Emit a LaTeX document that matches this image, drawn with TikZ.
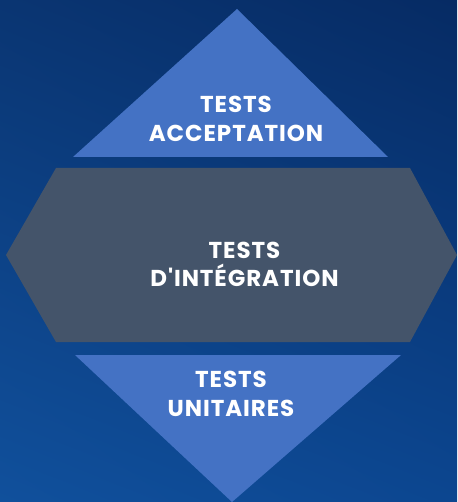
\documentclass[tikz,border=0pt]{standalone}
\usepackage{fontspec}
\newfontfamily\lblfont{Poppins}[LetterSpace=4]
\usetikzlibrary{positioning,shadings}
\definecolor{bgul}{HTML}{0A3572}
\definecolor{bgur}{HTML}{062B64}
\definecolor{bgll}{HTML}{10509C}
\definecolor{bglr}{HTML}{0C4690}
\definecolor{accblue}{HTML}{4472C4}
\definecolor{intgray}{HTML}{44546A}

\begin{document}
\begin{tikzpicture}[x=1pt,y=-1pt,
    lvl/.style={fill=accblue},
    mid/.style={fill=intgray},
    lbl/.style={text=white,align=center,inner sep=0pt,
      font=\lblfont\bfseries\fontsize{23}{28.5}\selectfont}]
    % background
    \shade[upper left=bgul,upper right=bgur,lower left=bgll,lower right=bglr] (0,0) rectangle (457,502);
    % acceptance tests
    \fill[lvl] (237,9) -- (388,157) -- (73,157) -- cycle;
    % integration tests
    \fill[mid] (56,168) -- (410,168) -- (457,255) -- (410,342) -- (56,342) -- (6,255) -- cycle;
    % unit tests
    \fill[lvl] (75,355) -- (401,355) -- (232,502) -- cycle;
    % labels
    \node[lbl] (acc) at (236,119) {TESTS\\ACCEPTATION};
    \node[lbl] (integ) at (244.5,264.5) {TESTS\\D'INTÉGRATION};
    \node[lbl] (unit) at (231,394) {TESTS\\UNITAIRES};
\end{tikzpicture}
\end{document}
